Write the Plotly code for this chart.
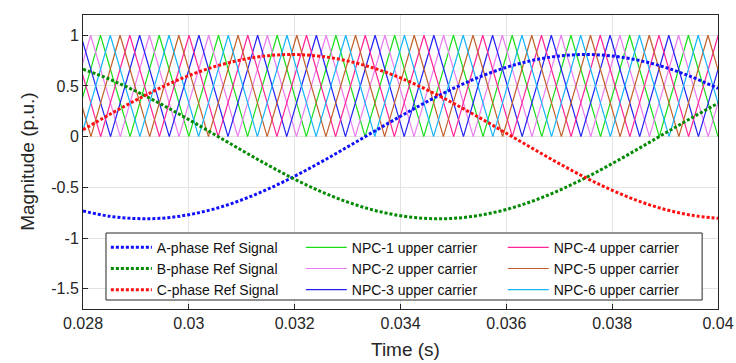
import plotly.graph_objects as go

ref_time_ms = [28.0, 28.5, 29.0, 29.5, 30.0, 30.5, 31.0, 31.5, 32.0, 32.5, 33.0, 33.5,
               34.0, 34.5, 35.0, 35.5, 36.0, 36.5, 37.0, 37.5, 38.0, 38.5, 39.0, 39.5, 40.0]
ref_a = [-0.733, -0.785, -0.808, -0.804, -0.770, -0.710, -0.624, -0.516, -0.390, -0.250,
         -0.101, 0.051, 0.201, 0.345, 0.476, 0.590, 0.684, 0.753, 0.796, 0.810, 0.796,
         0.753, 0.684, 0.590, 0.476]
ref_b = [0.665, 0.567, 0.448, 0.314, 0.168, 0.017, -0.135, -0.282, -0.420, -0.542,
         -0.645, -0.726, -0.780, -0.807, -0.806, -0.775, -0.718, -0.635, -0.529, -0.405,
         -0.266, -0.118, 0.034, 0.185, 0.329]
ref_c = [0.068, 0.218, 0.360, 0.490, 0.602, 0.693, 0.759, 0.799, 0.810, 0.792, 0.747,
         0.675, 0.579, 0.462, 0.329, 0.185, 0.034, -0.118, -0.266, -0.405, -0.529,
         -0.635, -0.718, -0.775, -0.806]
ref_names = ["A-phase Ref Signal", "B-phase Ref Signal", "C-phase Ref Signal"]

# ---- NPC-1 carrier vertices (ms) and values ----
carrier_vertex_ms = [26.67, 27.22, 27.78, 28.33, 28.89, 29.44, 30.00, 30.56, 31.11, 31.67,
                     32.22, 32.78, 33.33, 33.89, 34.44, 35.00, 35.56, 36.11, 36.67, 37.22,
                     37.78, 38.33, 38.89, 39.44, 40.00, 40.56, 41.11]
carrier_vertex_val = [0, 1, 0, 1, 0, 1, 0, 1, 0, 1, 0, 1, 0, 1, 0, 1, 0, 1, 0, 1, 0, 1, 0, 1,
                      0, 1, 0]
carrier_names = ["NPC-1 upper carrier", "NPC-2 upper carrier", "NPC-3 upper carrier",
                 "NPC-4 upper carrier", "NPC-5 upper carrier", "NPC-6 upper carrier"]
carrier_shift_ms = [0.0, -0.185, -0.370, -0.556, 0.370, 0.185]

# ---- axis ticks / titles ----
x_tickvals = [0.028, 0.030, 0.032, 0.034, 0.036, 0.038, 0.040]
x_ticktext = ["0.028", "0.03", "0.032", "0.034", "0.036", "0.038", "0.04"]
y_tickvals = [1, 0.5, 0, -0.5, -1, -1.5]
y_ticktext = ["1", "0.5", "0", "-0.5", "-1", "-1.5"]
x_title = "Time (s)"
y_title = "Magnitude (p.u.)"

# styles
carrier_colors = ["#19de19", "#ea7cf0", "#2222f5", "#ff2597", "#c2602c", "#16b4f8"]
carrier_legend = ["legend2", "legend2", "legend2", "legend3", "legend3", "legend3"]
ref_colors = ["#1010ff", "#008a00", "#ff1010"]
FONT = "Liberation Sans, Arial"

fig = go.Figure()

for i, name in enumerate(carrier_names):
    fig.add_trace(go.Scatter(
        x=[(t + carrier_shift_ms[i]) / 1000.0 for t in carrier_vertex_ms],
        y=carrier_vertex_val,
        mode="lines", name=name,
        line=dict(color=carrier_colors[i], width=1.2),
        legend=carrier_legend[i],
    ))

for i, (name, vals) in enumerate(zip(ref_names, [ref_a, ref_b, ref_c])):
    fig.add_trace(go.Scatter(
        x=[t / 1000.0 for t in ref_time_ms], y=vals,
        mode="lines", name=name,
        line=dict(color=ref_colors[i], width=3, dash="3px,2px", shape="spline"),
        legend="legend",
    ))

axis_common = dict(
    showline=True, mirror=True, linecolor="#262626", linewidth=1,
    ticks="inside", ticklen=5, tickcolor="#262626",
    showgrid=True, gridcolor="#e3e3e3", gridwidth=1, zeroline=False,
    tickfont=dict(family=FONT, size=16, color="#262626"),
    automargin=False,
)

leg_common = dict(
    orientation="v", yanchor="top", xanchor="left",
    bgcolor="rgba(0,0,0,0)", borderwidth=0, itemwidth=41,
    font=dict(family=FONT, size=14, color="#111111"),
    traceorder="normal",
)

fig.update_layout(
    width=736, height=363,
    margin=dict(l=83, r=18, t=15, b=54),
    plot_bgcolor="white", paper_bgcolor="white",
    font=dict(family=FONT, color="#262626"),
    xaxis=dict(range=[0.028, 0.04], tickvals=x_tickvals, ticktext=x_ticktext,
               **axis_common),
    yaxis=dict(range=[-1.7, 1.2], tickvals=y_tickvals, ticktext=y_ticktext,
               **axis_common),
    legend=dict(x=0.036, y=0.263, **leg_common),
    legend2=dict(x=0.343, y=0.263, **leg_common),
    legend3=dict(x=0.661, y=0.263, **leg_common),
    shapes=[dict(type="rect", xref="paper", yref="paper",
                 x0=0.0362, x1=0.975, y0=0.0306, y1=0.2585,
                 fillcolor="white", line=dict(color="#262626", width=1),
                 layer="above")],
    annotations=[
        dict(text=x_title, xref="paper", yref="paper", x=0.508, y=-0.139,
             xanchor="center", yanchor="middle", showarrow=False,
             font=dict(family=FONT, size=19, color="#262626")),
        dict(text=y_title, xref="paper", yref="paper", x=-0.0885, y=0.5,
             xanchor="center", yanchor="middle", textangle=-90, showarrow=False,
             font=dict(family=FONT, size=19, color="#262626")),
    ],
    showlegend=True,
)

fig.write_html("out.html")
